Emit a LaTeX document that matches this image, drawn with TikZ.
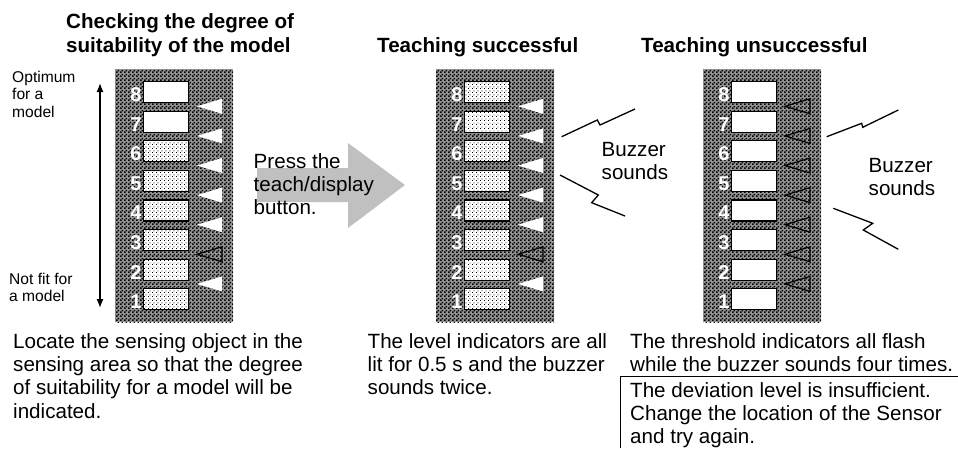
\documentclass[tikz,border=0pt]{standalone}
\usepackage{fontspec}
\setmainfont{Liberation Sans}
\usepackage{tikz}
\usetikzlibrary{arrows.meta, patterns.meta}
\definecolor{arrowgrey}{RGB}{192,192,192}

\tikzdeclarepattern{
  name=chequer,
  bottom left={(0pt,0pt)},
  top right={(4pt,4pt)},
  tile size={(4pt,4pt)},
  code={\fill (0pt,0pt) rectangle (2pt,2pt); \fill (2pt,2pt) rectangle (4pt,4pt);}}
\tikzdeclarepattern{
  name=stipple,
  bottom left={(0pt,0pt)},
  top right={(4pt,4pt)},
  tile size={(4pt,4pt)},
  code={\fill (0pt,0pt) rectangle (1pt,1pt); \fill (2pt,2pt) rectangle (3pt,3pt);}}

\begin{document}
\begin{tikzpicture}[x=1pt, y=-1pt,
  body/.style={font=\fontsize{20.6}{23.3}\selectfont, align=left, inner sep=0pt, anchor=north west},
  head/.style={body, font=\fontsize{20.6}{23.5}\selectfont\bfseries},
  note/.style={body, font=\fontsize{15.6}{17.5}\selectfont},
  lamp/.style={draw, line width=1.2pt, minimum width=45pt, minimum height=21pt,
               inner sep=0pt, anchor=north west},
  lampon/.style={lamp, preaction={fill=white}, pattern=stipple},
  lampoff/.style={lamp, fill=white},
  digit/.style={font=\fontsize{20}{20}\selectfont\bfseries, text=white, inner sep=0pt, anchor=base},
  bolt/.style={line width=1.3pt},
  updown/.style={{Latex[length=9pt,width=7pt]}-{Latex[length=9pt,width=7pt]}, line width=1.3pt}]
  \useasboundingbox (0,0) rectangle (958,448);

  % titles
  \node[head] (title1) at (66,13.5) {Checking the degree of\\suitability of the model};
  \node[head] (title2) at (377,37) {Teaching successful};
  \node[head] (title3) at (641,37) {Teaching unsuccessful};

  % the three displays
  \foreach \px/\lit/\thr in {115/6/2, 436/8/2, 703/0/0} {
    \path[preaction={fill=black!42}, pattern=chequer] (\px,69) rectangle ++(118,253);
    \foreach \k in {1,...,8} {
      \pgfmathsetmacro\ytop{81+(8-\k)*29.6}
      \ifnum\k>\lit\relax
        \node[lampoff] (lamp\px-\k) at (\px+28,\ytop) {};
      \else
        \node[lampon] (lamp\px-\k) at (\px+28,\ytop) {};
      \fi
      \node[digit] (num\px-\k) at (\px+21,\ytop+20.5) {\k};
    }
    \foreach \k in {1,...,7} {
      \pgfmathsetmacro\yc{106.3+(7-\k)*29.6}
      \pgfmathtruncatemacro\isoff{(\k==\thr)||(\thr==0)}
      \ifnum\isoff=1\relax
        \draw[line width=1.2pt] (\px+82,\yc) -- (\px+107,\yc-7.5) -- (\px+107,\yc+7.5) -- cycle;
      \else
        \fill[white] (\px+82,\yc) -- (\px+107,\yc-7.5) -- (\px+107,\yc+7.5) -- cycle;
      \fi
    }
  }

  % scale at the left
  \node[note] (topnote) at (12,70.5) {Optimum\\for a\\model};
  \node[note] (lownote) at (9,272.5) {Not fit for\\a model};
  \coordinate (best) at (100,83);
  \coordinate (worst) at (100,308);
  \draw[updown] (best) -- (worst);

  % big grey arrow
  \fill[arrowgrey] (257,168) -- (348,168) -- (348,143) -- (405,185) -- (348,228) -- (348,202) -- (257,202) -- cycle;
  \node[body] (press) at (253.5,153) {Press the\\teach/display\\button.};

  % buzzer
  \draw[bolt] (561.7,136.7) -- (597.3,120) -- (600,125) -- (635,109);
  \draw[bolt] (560,175) -- (598.3,195) -- (591.7,202.7) -- (625,216);
  \node[body] (buzz1) at (601.5,142) {Buzzer\\sounds};
  \draw[bolt] (826.7,136.7) -- (861.7,123.3) -- (862.7,127.3) -- (898.3,110);
  \draw[bolt] (833.3,208.3) -- (872.7,223.3) -- (863.3,230) -- (898.3,249.3);
  \node[body] (buzz2) at (868.5,158) {Buzzer\\sounds};

  % captions
  \node[body] (locate) at (13,333) {Locate the sensing object in the\\sensing area so that the degree\\of suitability for a model will be\\indicated.};
  \node[body] (level) at (367.5,333) {The level indicators are all\\lit for 0.5 s and the buzzer\\sounds twice.};
  \node[body] (flash) at (630,333) {The threshold indicators all flash\\while the buzzer sounds four times.};
  \node[body] (advice) at (630,382) {The deviation level is insufficient.\\Change the location of the Sensor\\and try again.};
  \draw[line width=1pt] (620.5,448) -- (620.5,376) -- (958,376);
\end{tikzpicture}
\end{document}
